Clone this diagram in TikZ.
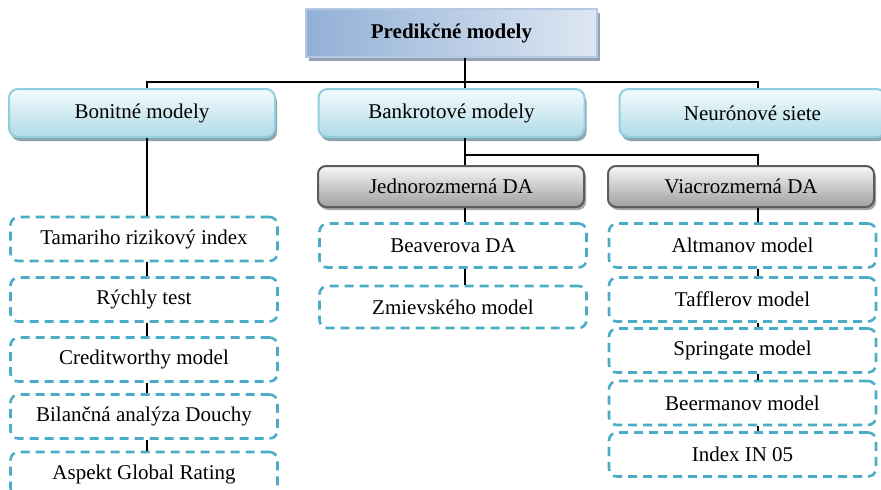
\documentclass[tikz,border=0pt]{standalone}
\usepackage{fontspec}
\setmainfont{Liberation Serif}
\usetikzlibrary{shadows}
\definecolor{rootdark}{RGB}{146,176,214}
\definecolor{rootlight}{RGB}{222,231,243}
\definecolor{rootedge}{RGB}{180,200,226}
\definecolor{rootshadow}{RGB}{150,162,184}
\definecolor{aquatop}{RGB}{244,251,253}
\definecolor{aquabot}{RGB}{176,219,231}
\definecolor{aquaedge}{RGB}{146,206,222}
\definecolor{aquashadow}{RGB}{140,164,172}
\definecolor{greytop}{RGB}{246,246,246}
\definecolor{greybot}{RGB}{160,160,160}
\definecolor{greyedge}{RGB}{92,92,92}
\definecolor{dashblue}{RGB}{75,172,198}
\begin{document}
\begin{tikzpicture}[x=1pt,y=-1pt,
  txt/.style={font=\fontsize{21}{25}\selectfont,inner sep=0pt},
  rootbox/.style={txt,font=\fontsize{21}{25}\selectfont\bfseries,draw=rootedge,line width=1.2pt,
    left color=rootdark,right color=rootlight,minimum width=291pt,minimum height=48pt,
    drop shadow={shadow xshift=3pt,shadow yshift=-4pt,fill=rootshadow,opacity=1}},
  groupbox/.style={txt,draw=aquaedge,line width=2pt,rounded corners=9pt,
    top color=aquatop,bottom color=aquabot,minimum width=266pt,minimum height=48pt,
    drop shadow={shadow xshift=2pt,shadow yshift=-4pt,fill=aquashadow,opacity=1}},
  dabox/.style={txt,draw=greyedge,line width=2pt,rounded corners=8pt,
    top color=greytop,bottom color=greybot,minimum width=266pt,minimum height=41pt,
    drop shadow={shadow xshift=2pt,shadow yshift=-3pt,fill=black!35,opacity=1}},
  leaf/.style={txt,draw=dashblue,line width=2.6pt,dash pattern=on 9pt off 6pt,
    rounded corners=8pt,fill=white,minimum width=267pt,minimum height=44pt},
  conn/.style={line width=1.8pt,black}]
\useasboundingbox (0,0) rectangle (881,490);

% Root
\node[rootbox] (root) at (451.5,33) {Predikčné modely};

% Groups of models
\node[groupbox] (bon) at (142,113) {Bonitné modely};
\node[groupbox] (bank) at (451.5,113) {Bankrotové modely};
\node[groupbox] (neur) at (752.5,113) {Neurónové siete};

% Discriminant analysis
\node[dabox] (jedno) at (451,186.5) {Jednorozmerná DA};
\node[dabox] (viac) at (741,186.5) {Viacrozmerná DA};

% Bonitne models
\node[leaf] (tam) at (144,239) {Tamariho rizikový index};
\node[leaf] (ryt) at (144,299.5) {Rýchly test};
\node[leaf] (cred) at (144,359.5) {Creditworthy model};
\node[leaf] (bil) at (144,416.5) {Bilančná analýza Douchy};
\node[leaf] (asp) at (144,474) {Aspekt Global Rating};

% One-dimensional DA
\node[leaf] (beav) at (453,245.5) {Beaverova DA};
\node[leaf,minimum height=42pt] (zmi) at (453,307) {Zmievského model};

% Multi-dimensional DA
\node[leaf] (alt) at (742.5,245.5) {Altmanov model};
\node[leaf] (taf) at (742.5,299.5) {Tafflerov model};
\node[leaf] (spr) at (742.5,350.5) {Springate model};
\node[leaf] (beer) at (742.5,403) {Beermanov model};
\node[leaf] (inx) at (742.5,454.5) {Index IN 05};

% Connectors
\coordinate (bar) at (465,82);
\coordinate (split) at (465,155);
\draw[conn] ([xshift=13.5pt]root.south) -- ([xshift=13.5pt]bank.north);
\draw[conn] ([xshift=5pt]bon.north) |- (bar) -| ([xshift=5.5pt]neur.north);
\draw[conn] ([xshift=13.5pt]bank.south) -- ([xshift=14pt]jedno.north);
\draw[conn] (split) -| ([xshift=17pt]viac.north);

\draw[conn] ([xshift=5pt]bon.south) -- ([xshift=3pt]tam.north);
\draw[conn] ([xshift=3pt]tam.south) -- ([xshift=3pt]ryt.north);
\draw[conn] ([xshift=3pt]ryt.south) -- ([xshift=3pt]cred.north);
\draw[conn] ([xshift=3pt]cred.south) -- ([xshift=3pt]bil.north);
\draw[conn] ([xshift=3pt]bil.south) -- ([xshift=3pt]asp.north);

\draw[conn] ([xshift=14pt]jedno.south) -- ([xshift=12pt]beav.north);
\draw[conn] ([xshift=12pt]beav.south) -- ([xshift=12pt]zmi.north);

\draw[conn] ([xshift=17pt]viac.south) -- ([xshift=15.5pt]alt.north);
\draw[conn] ([xshift=15.5pt]alt.south) -- ([xshift=15.5pt]taf.north);
\draw[conn] ([xshift=15.5pt]taf.south) -- ([xshift=15.5pt]spr.north);
\draw[conn] ([xshift=15.5pt]spr.south) -- ([xshift=15.5pt]beer.north);
\draw[conn] ([xshift=15.5pt]beer.south) -- ([xshift=15.5pt]inx.north);
\end{tikzpicture}
\end{document}
